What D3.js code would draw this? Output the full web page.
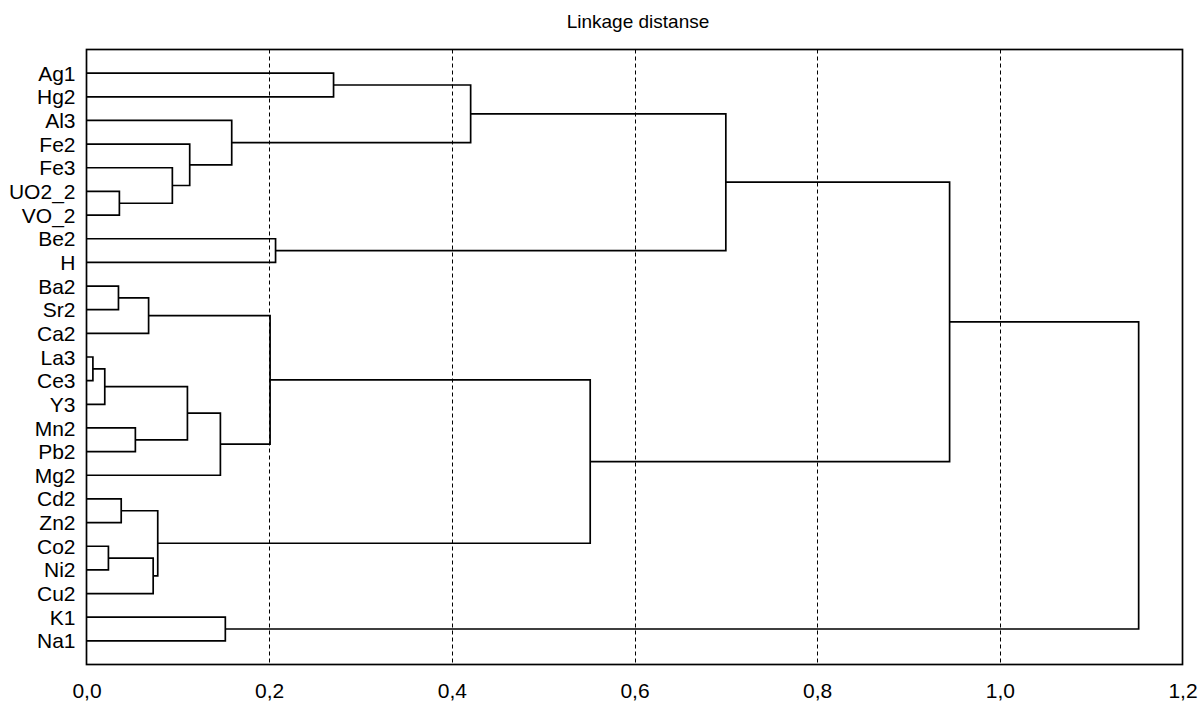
<!DOCTYPE html>
<html>
<head>
<meta charset="utf-8">
<script src="https://cdn.jsdelivr.net/npm/d3@7"></script>
<style>
  html, body { margin: 0; padding: 0; background: #fff; }
  svg { display: block; font-family: "Liberation Sans", Arial, sans-serif; }
</style>
</head>
<body>
<svg id="chart" width="1201" height="702"></svg>
<script>
// ---- data ----
const title = "Linkage distanse";
const leaves = ["Ag1","Hg2","Al3","Fe2","Fe3","UO2_2","VO_2","Be2","H","Ba2","Sr2","Ca2",
  "La3","Ce3","Y3","Mn2","Pb2","Mg2","Cd2","Zn2","Co2","Ni2","Cu2","K1","Na1"];
// linkage: [child A, child B, distance]; "#k" refers to k-th merge
const merges = [
  ["La3","Ce3",0.007],   // #0
  ["#0","Y3",0.020],     // #1
  ["Co2","Ni2",0.024],   // #2
  ["Ba2","Sr2",0.035],   // #3
  ["UO2_2","VO_2",0.036],// #4
  ["Cd2","Zn2",0.038],   // #5
  ["Mn2","Pb2",0.0535],  // #6
  ["#3","Ca2",0.068],    // #7
  ["#2","Cu2",0.073],    // #8
  ["#5","#8",0.078],     // #9
  ["Fe3","#4",0.094],    // #10
  ["#1","#6",0.1105],    // #11
  ["Fe2","#10",0.113],   // #12
  ["#11","Mg2",0.1466],  // #13
  ["K1","Na1",0.152],    // #14
  ["Al3","#12",0.159],   // #15
  ["#7","#13",0.201],    // #16
  ["Be2","H",0.207],     // #17
  ["Ag1","Hg2",0.2705],  // #18
  ["#18","#15",0.4206],  // #19
  ["#16","#9",0.5515],   // #20
  ["#19","#17",0.700],   // #21
  ["#21","#20",0.945],   // #22
  ["#22","#14",1.152]    // #23
];
const xTicks = [0, 0.2, 0.4, 0.6, 0.8, 1.0, 1.2];
const gridTicks = [0.2, 0.4, 0.6, 0.8, 1.0];

// ---- layout ----
const svg = d3.select("#chart");
const pL = 86.5, pR = 1182.5, pT = 49.5, pB = 664.5;

const x = d3.scaleLinear().domain([0, 1.2]).range([pL, pR]);
const y = d3.scalePoint().domain(leaves).range([pT, pB]).padding(1);

// title
svg.append("text")
  .attr("x", 638)
  .attr("y", 28)
  .attr("text-anchor", "middle")
  .attr("font-size", 19)
  .attr("fill", "#000")
  .text(title);

// grid
svg.append("g").selectAll("line").data(gridTicks).join("line")
  .attr("x1", d => Math.round(x(d)) + 0.5).attr("x2", d => Math.round(x(d)) + 0.5)
  .attr("y1", pT).attr("y2", pB)
  .attr("stroke", "#000").attr("stroke-width", 1)
  .attr("stroke-dasharray", "4,3");

// dendrogram nodes
const pos = {};
leaves.forEach(l => { pos[l] = { h: 0, y: y(l) }; });
const linkG = svg.append("g").attr("fill", "none").attr("stroke", "#000").attr("stroke-width", 1.7);
merges.forEach((m, i) => {
  const a = pos[m[0]], b = pos[m[1]], h = m[2];
  const xm = x(h);
  linkG.append("path")
    .attr("d", `M${x(a.h)},${a.y}H${xm}V${b.y}H${x(b.h)}`);
  pos["#" + i] = { h: h, y: (a.y + b.y) / 2 };
});

// leaf labels
svg.append("g").selectAll("text").data(leaves).join("text")
  .attr("x", pL - 11)
  .attr("y", d => y(d))
  .attr("dy", "0.36em")
  .attr("text-anchor", "end")
  .attr("font-size", 21)
  .attr("fill", "#000")
  .text(d => d);

// frame
svg.append("rect")
  .attr("x", pL).attr("y", pT)
  .attr("width", pR - pL).attr("height", pB - pT)
  .attr("fill", "none").attr("stroke", "#000").attr("stroke-width", 1.7);

// x axis
const fmt = d3.format(".1f");
const axis = d3.axisBottom(x).tickValues(xTicks).tickSize(0).tickPadding(19)
  .tickFormat(d => fmt(d).replace(".", ","));
const ag = svg.append("g").attr("transform", `translate(0,${pB})`).call(axis);
ag.select(".domain").remove();
ag.selectAll("text").attr("font-size", 21).attr("fill", "#000")
  .attr("font-family", "'Liberation Sans', Arial, sans-serif");
</script>
</body>
</html>
